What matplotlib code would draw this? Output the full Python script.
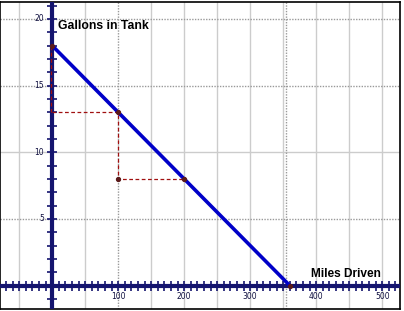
import numpy as np
import matplotlib
matplotlib.use('Agg')
import matplotlib.pyplot as plt

# tank line: 18 gallons, 20 miles per gallon
miles = [0, 360]
gallons = [18, 0]

# marked points and the dashed read-off path
pt_x = [0, 100, 100, 200, 360]
pt_y = [18, 13, 8, 8, 0]
path_x = [0, 100, 100, 200]
path_y = [13, 13, 8, 8]
drop_y = [18, 13]

x_labels = [100, 200, 300, 400, 500]
y_labels = [5, 10, 15, 20]

light_vx = [-50, 50, 150, 200, 250, 300, 350, 400, 450, 500]
dotted_vx = [100, 355]
light_hy = [10]
dotted_hy = [5, 15, 20]

navy = '#14146e'

fig = plt.figure(figsize=(4.04, 3.11), dpi=100)
ax = fig.add_axes([0, 2 / 311, 400 / 404, 307 / 311])
ax.set_xlim(-79, 527)
ax.set_ylim(-1.76, 21.27)
ax.set_xticks([])
ax.set_yticks([])
for s in ax.spines.values():
    s.set_linewidth(1.2)
    s.set_color('black')

for v in light_vx:
    ax.axvline(v, color='#cccccc', lw=1, zorder=1)
for h in light_hy:
    ax.axhline(h, color='#cccccc', lw=1, zorder=1)
for v in dotted_vx:
    ax.axvline(v, color='#999999', lw=1, ls=(0, (1, 1)), zorder=1)
for h in dotted_hy:
    ax.axhline(h, color='#999999', lw=1, ls=(0, (1, 1)), zorder=1)

# axes through the origin with tick marks
ax.axhline(0, color=navy, lw=3, zorder=3)
ax.axvline(0, color=navy, lw=3, zorder=3)
xt = np.arange(-70, 530, 10)
ax.plot(xt, np.zeros(len(xt)), '|', color=navy, ms=6.5, mew=1.2, zorder=3)
yt = np.arange(-1, 22, 1)
ax.plot(np.zeros(len(yt)), yt, '_', color=navy, ms=6.5, mew=1.2, zorder=3)

for v in x_labels:
    ax.text(v, -0.8, str(v), fontsize=5.5, ha='center', va='center',
            color='#101040', family='DejaVu Sans')
for v in y_labels:
    ax.text(-12, v, str(v), fontsize=5.5, ha='right', va='center',
            color='#101040', family='DejaVu Sans')

# dashed read-off lines
ax.plot(path_x, path_y, color='#a01010', lw=0.9, ls=(0, (3, 2)), zorder=4)
ax.plot([-2, -2], drop_y, color='#a01010', lw=0.9, ls=(0, (3, 2)), zorder=4)

ax.plot(miles, gallons, color='#0000c8', lw=2.6, zorder=5, solid_capstyle='butt')
ax.plot(pt_x, pt_y, 'o', color='#5a1a1a', ms=2.8, zorder=6)

ax.text(9, 19.5, 'Gallons in Tank', fontsize=8.8, fontweight='bold',
        family='Liberation Sans', va='center', ha='left')
ax.text(392, 0.85, 'Miles Driven', fontsize=8.6, fontweight='bold',
        family='Liberation Sans', va='center', ha='left')

fig.savefig('out.png', dpi=100)
